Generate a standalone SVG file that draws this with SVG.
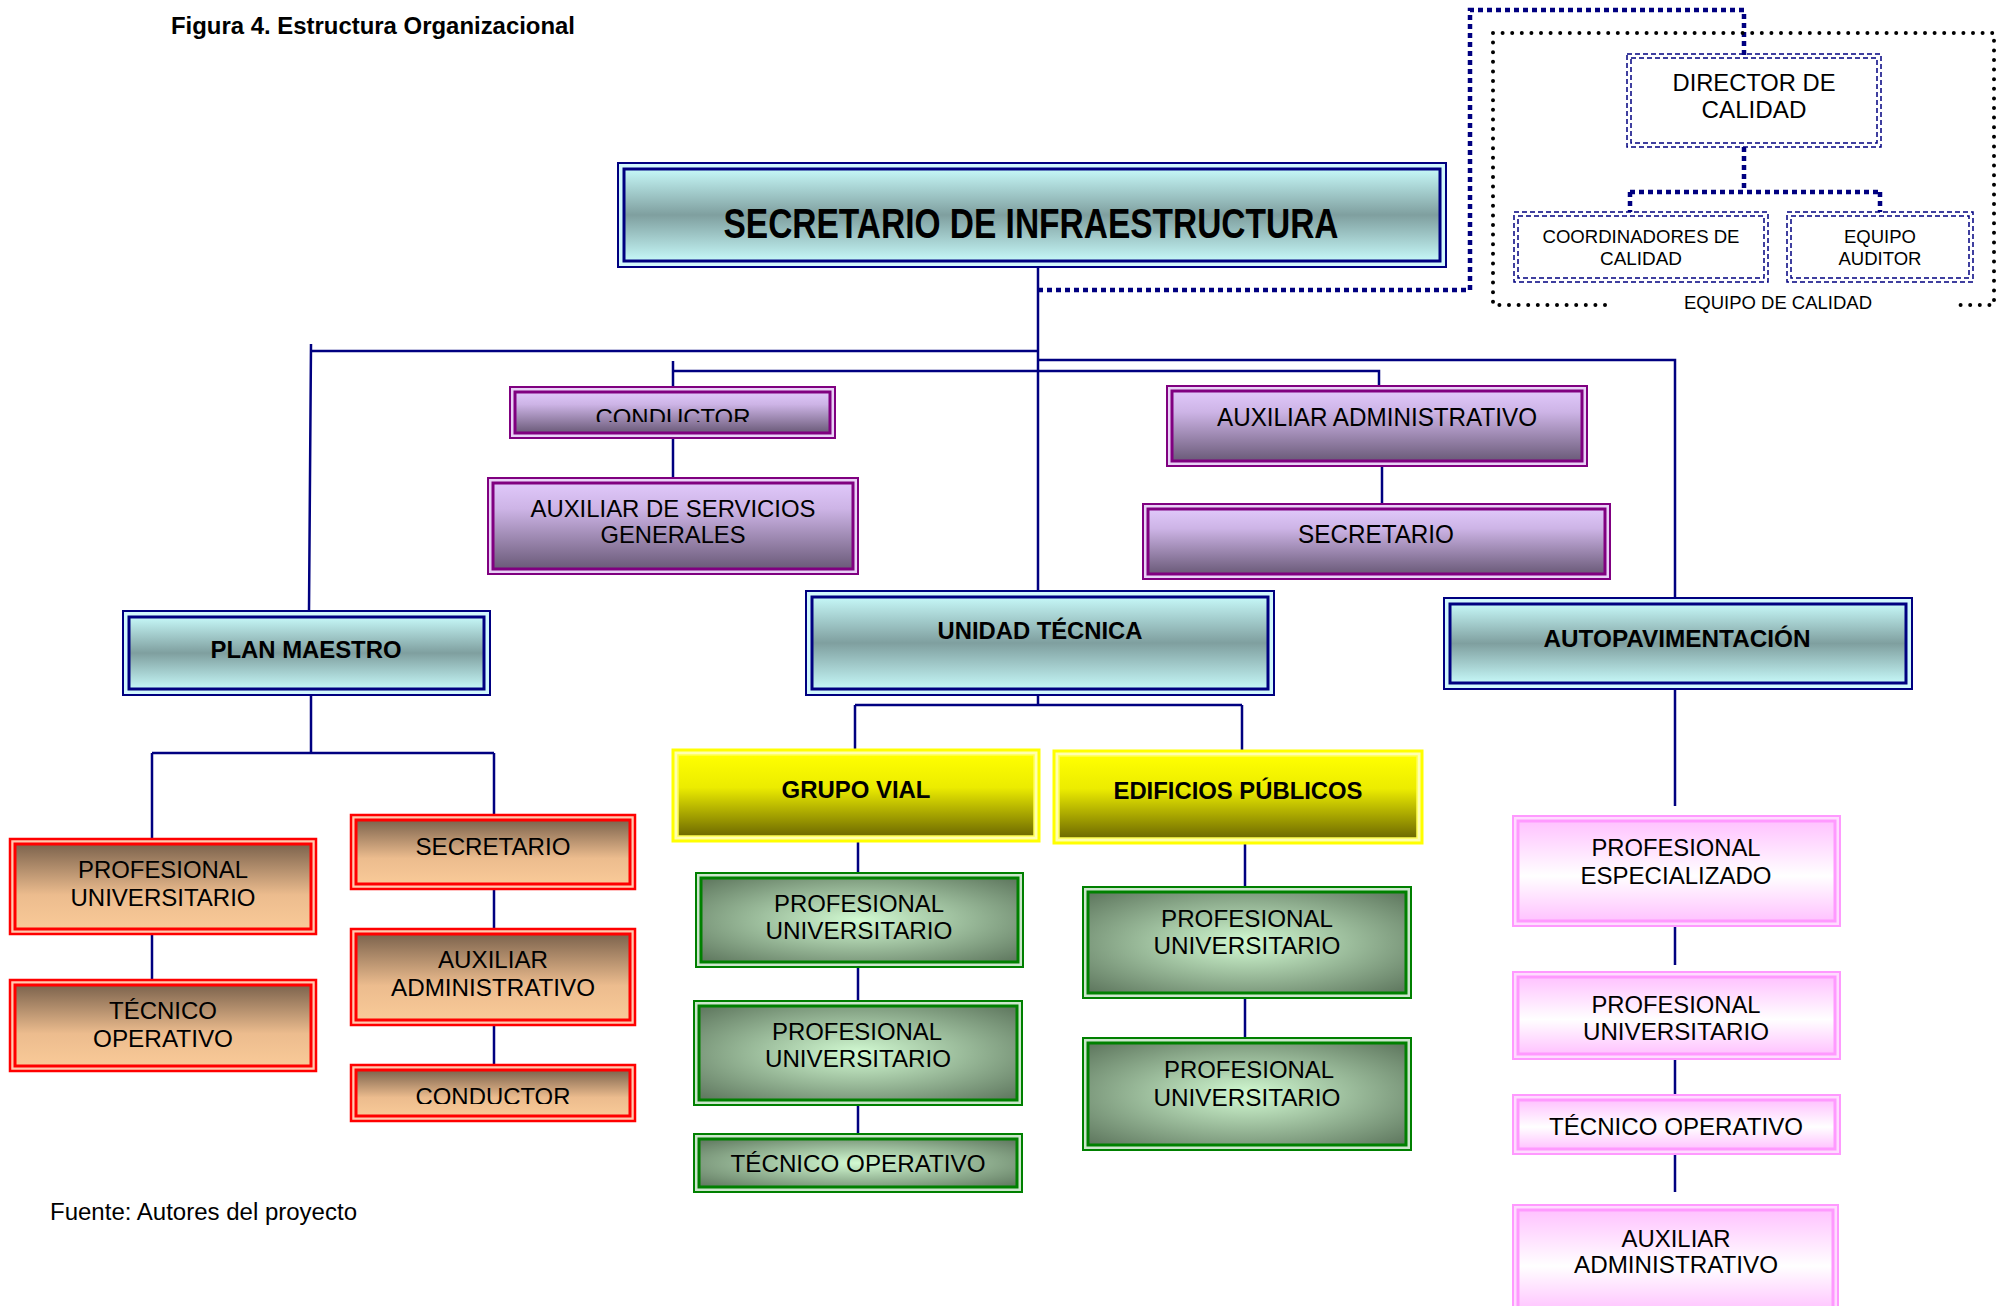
<svg xmlns="http://www.w3.org/2000/svg" width="2009" height="1306" viewBox="0 0 2009 1306">
  <style>
    svg { font-family: "Liberation Sans", Arial, sans-serif; font-size: 24px; }
    text { fill: #000; text-anchor: middle; }
    .b { font-weight: bold; }
    .st { text-anchor: start; }
    .ln { stroke: #000080; stroke-width: 2.5; fill: none; }
    .qd { stroke: #000080; stroke-width: 4.5; fill: none; stroke-dasharray: 5 4; }
    .dots { stroke: #000; stroke-width: 4; fill: none; stroke-dasharray: 0 9.6; stroke-linecap: round; }
    .qbox { stroke: #000080; stroke-width: 1.5; fill: none; stroke-dasharray: 5 3; }
    .o-cy { fill: #d2f8fc; stroke: #000080; stroke-width: 2; }
    .i-cy { fill: url(#gCyan); stroke: #000080; stroke-width: 3; }
    .o-pu { fill: #e8d2f6; stroke: #800080; stroke-width: 2; }
    .i-pu { fill: url(#gPurple); stroke: #800080; stroke-width: 3; }
    .o-pe { fill: #ffcab0; stroke: #ff0000; stroke-width: 2.5; }
    .i-pe { fill: url(#gPeach); stroke: #ff0000; stroke-width: 3; }
    .o-ye { fill: #ffffb0; stroke: #ffff00; stroke-width: 3; }
    .i-ye { fill: url(#gYellow); stroke: #ffff50; stroke-width: 1.5; }
    .o-gr { fill: #cde6cd; stroke: #008000; stroke-width: 2; }
    .i-gr { fill: url(#gGreen); stroke: #008000; stroke-width: 3; }
    .o-pk { fill: #ffdcff; stroke: #ff99ff; stroke-width: 2; }
    .i-pk { fill: url(#gPink); stroke: #ff99ff; stroke-width: 3; }
  </style>
  <defs>
    <linearGradient id="gCyan" x1="0" y1="0" x2="0" y2="1">
      <stop offset="0" stop-color="#c6f8f8"/>
      <stop offset="0.5" stop-color="#7f9f9f"/>
      <stop offset="1" stop-color="#c6f8f8"/>
    </linearGradient>
    <linearGradient id="gPurple" x1="0" y1="0" x2="0" y2="1">
      <stop offset="0" stop-color="#e0c8fa"/>
      <stop offset="0.3" stop-color="#cdb4e6"/>
      <stop offset="1" stop-color="#6a5a78"/>
    </linearGradient>
    <linearGradient id="gPeach" x1="0" y1="0" x2="0" y2="1">
      <stop offset="0" stop-color="#7c634d"/>
      <stop offset="0.6" stop-color="#ecbc8e"/>
      <stop offset="1" stop-color="#f9ca98"/>
    </linearGradient>
    <linearGradient id="gYellow" x1="0" y1="0" x2="0" y2="1">
      <stop offset="0" stop-color="#ffff00"/>
      <stop offset="0.4" stop-color="#ecec00"/>
      <stop offset="1" stop-color="#6e6a00"/>
    </linearGradient>
    <radialGradient id="gGreen" cx="0.5" cy="0.5" r="0.72">
      <stop offset="0" stop-color="#d2fad2"/>
      <stop offset="1" stop-color="#5a725a"/>
    </radialGradient>
    <linearGradient id="gPink" x1="0" y1="0" x2="0" y2="1">
      <stop offset="0" stop-color="#ffc2ff"/>
      <stop offset="0.55" stop-color="#ffffff"/>
      <stop offset="1" stop-color="#ffc2ff"/>
    </linearGradient>
    <clipPath id="cpCondA"><rect x="510" y="380" width="325" height="42"/></clipPath>
    <clipPath id="cpCondB"><rect x="351" y="1060" width="283" height="44"/></clipPath>
  </defs>

  <rect width="2009" height="1306" fill="#fff"/>

  <text class="b st" x="171" y="34" font-size="23" textLength="404" lengthAdjust="spacingAndGlyphs">Figura 4. Estructura Organizacional</text>
  <text class="st" x="50" y="1220" font-size="23" textLength="307" lengthAdjust="spacingAndGlyphs">Fuente: Autores del proyecto</text>

  <!-- connectors -->
  <g id="connectors">
    <!-- quality team links -->
    <path class="qd" d="M1038 290 H1470 V10 H1744 V55"/>
    <path class="dots" d="M1605 305 H1493 V33 H1994 V305 H1955"/>
    <path class="qd" d="M1744 147 V192 M1630 192 H1880 M1630 192 V212 M1880 192 V212"/>
    <!-- head -->
    <path class="ln" d="M1038 259 V615"/>
    <path class="ln" d="M311 344 L309 611 M311 351 H1038"/>
    <path class="ln" d="M1038 360 H1675 V598"/>
    <path class="ln" d="M673 361 V387 M673 371 H1379 V387"/>
    <path class="ln" d="M673 438 V478"/>
    <path class="ln" d="M1382 458 V504"/>
    <!-- plan maestro -->
    <path class="ln" d="M311 686 V753 M152 753 H494 M152 753 V839 M494 753 V815"/>
    <path class="ln" d="M152 934 V980"/>
    <path class="ln" d="M494 888 V929 M494 1025 V1065"/>
    <!-- unidad tecnica -->
    <path class="ln" d="M1038 683 V705 M855 705 H1242 M855 705 V750 M1242 705 V751"/>
    <path class="ln" d="M858 822 V873 M858 958 V1002 M858 1092 V1134"/>
    <path class="ln" d="M1245 844 V888 M1245 988 V1039"/>
    <!-- autopavimentacion -->
    <path class="ln" d="M1675 686 V806 M1675 917 V965 M1675 1052 V1096 M1675 1153 V1192"/>
  </g>

  <!-- head -->
  <g id="secretario-infraestructura">
    <rect class="o-cy" x="618" y="163" width="828" height="104"/>
    <rect class="i-cy" x="624" y="169" width="816" height="92"/>
    <text class="b" x="1031" y="238" font-size="42" textLength="615" lengthAdjust="spacingAndGlyphs">SECRETARIO DE INFRAESTRUCTURA</text>
  </g>

  <!-- quality team -->
  <g id="director-calidad">
    <rect class="qbox" x="1627" y="54" width="254" height="93" fill="#fff"/>
    <rect class="qbox" x="1631" y="58" width="246" height="85"/>
    <text x="1754" y="91" font-size="23" textLength="163" lengthAdjust="spacingAndGlyphs">DIRECTOR DE</text>
    <text x="1754" y="118" font-size="23" textLength="105" lengthAdjust="spacingAndGlyphs">CALIDAD</text>
  </g>
  <g id="coordinadores-calidad">
    <rect class="qbox" x="1514" y="212" width="254" height="70"/>
    <rect class="qbox" x="1518" y="216" width="246" height="62"/>
    <text x="1641" y="243" font-size="18" textLength="197" lengthAdjust="spacingAndGlyphs">COORDINADORES DE</text>
    <text x="1641" y="265" font-size="18" textLength="82" lengthAdjust="spacingAndGlyphs">CALIDAD</text>
  </g>
  <g id="equipo-auditor">
    <rect class="qbox" x="1787" y="212" width="186" height="70"/>
    <rect class="qbox" x="1791" y="216" width="178" height="62"/>
    <text x="1880" y="243" font-size="18" textLength="72" lengthAdjust="spacingAndGlyphs">EQUIPO</text>
    <text x="1880" y="265" font-size="18" textLength="83" lengthAdjust="spacingAndGlyphs">AUDITOR</text>
  </g>
  <text x="1778" y="309" font-size="17.5" textLength="188" lengthAdjust="spacingAndGlyphs">EQUIPO DE CALIDAD</text>

  <!-- staff units -->
  <g id="conductor-despacho">
    <rect class="o-pu" x="510" y="387" width="325" height="51"/>
    <rect class="i-pu" x="515" y="392" width="315" height="41"/>
    <text x="673" y="426" clip-path="url(#cpCondA)" textLength="155" lengthAdjust="spacingAndGlyphs">CONDUCTOR</text>
  </g>
  <g id="auxiliar-servicios">
    <rect class="o-pu" x="488" y="478" width="370" height="96"/>
    <rect class="i-pu" x="493" y="483" width="360" height="86"/>
    <text x="673" y="517" textLength="285" lengthAdjust="spacingAndGlyphs">AUXILIAR DE SERVICIOS</text>
    <text x="673" y="543" textLength="145" lengthAdjust="spacingAndGlyphs">GENERALES</text>
  </g>
  <g id="auxiliar-administrativo-despacho">
    <rect class="o-pu" x="1167" y="386" width="420" height="80"/>
    <rect class="i-pu" x="1172" y="391" width="410" height="70"/>
    <text x="1377" y="426" font-size="25" textLength="320" lengthAdjust="spacingAndGlyphs">AUXILIAR ADMINISTRATIVO</text>
  </g>
  <g id="secretario-despacho">
    <rect class="o-pu" x="1143" y="504" width="467" height="75"/>
    <rect class="i-pu" x="1148" y="509" width="457" height="65"/>
    <text x="1376" y="543" font-size="25" textLength="156" lengthAdjust="spacingAndGlyphs">SECRETARIO</text>
  </g>

  <!-- main units -->
  <g id="plan-maestro">
    <rect class="o-cy" x="123" y="611" width="367" height="84"/>
    <rect class="i-cy" x="129" y="617" width="355" height="72"/>
    <text class="b" x="306" y="658" textLength="191" lengthAdjust="spacingAndGlyphs">PLAN MAESTRO</text>
  </g>
  <g id="unidad-tecnica">
    <rect class="o-cy" x="806" y="591" width="468" height="104"/>
    <rect class="i-cy" x="812" y="597" width="456" height="92"/>
    <text class="b" x="1040" y="639" font-size="23" textLength="205" lengthAdjust="spacingAndGlyphs">UNIDAD TÉCNICA</text>
  </g>
  <g id="autopavimentacion">
    <rect class="o-cy" x="1444" y="598" width="468" height="91"/>
    <rect class="i-cy" x="1450" y="604" width="456" height="79"/>
    <text class="b" x="1677" y="647" font-size="23" textLength="267" lengthAdjust="spacingAndGlyphs">AUTOPAVIMENTACIÓN</text>
  </g>

  <!-- plan maestro staff -->
  <g id="pm-profesional-universitario">
    <rect class="o-pe" x="10" y="839" width="306" height="95"/>
    <rect class="i-pe" x="15" y="844" width="296" height="85"/>
    <text x="163" y="878" textLength="170" lengthAdjust="spacingAndGlyphs">PROFESIONAL</text>
    <text x="163" y="906" textLength="185" lengthAdjust="spacingAndGlyphs">UNIVERSITARIO</text>
  </g>
  <g id="pm-tecnico-operativo">
    <rect class="o-pe" x="10" y="980" width="306" height="91"/>
    <rect class="i-pe" x="15" y="985" width="296" height="81"/>
    <text x="163" y="1019" textLength="108" lengthAdjust="spacingAndGlyphs">TÉCNICO</text>
    <text x="163" y="1047" textLength="140" lengthAdjust="spacingAndGlyphs">OPERATIVO</text>
  </g>
  <g id="pm-secretario">
    <rect class="o-pe" x="351" y="815" width="284" height="74"/>
    <rect class="i-pe" x="356" y="820" width="274" height="64"/>
    <text x="493" y="855" textLength="155" lengthAdjust="spacingAndGlyphs">SECRETARIO</text>
  </g>
  <g id="pm-auxiliar-administrativo">
    <rect class="o-pe" x="351" y="929" width="284" height="96"/>
    <rect class="i-pe" x="356" y="934" width="274" height="86"/>
    <text x="493" y="968" textLength="110" lengthAdjust="spacingAndGlyphs">AUXILIAR</text>
    <text x="493" y="996" textLength="204" lengthAdjust="spacingAndGlyphs">ADMINISTRATIVO</text>
  </g>
  <g id="pm-conductor">
    <rect class="o-pe" x="351" y="1065" width="284" height="56"/>
    <rect class="i-pe" x="356" y="1070" width="274" height="46"/>
    <text x="493" y="1105" clip-path="url(#cpCondB)" textLength="155" lengthAdjust="spacingAndGlyphs">CONDUCTOR</text>
  </g>

  <!-- unidad tecnica groups -->
  <g id="grupo-vial">
    <rect class="o-ye" x="673" y="750" width="366" height="91"/>
    <rect class="i-ye" x="678" y="755" width="356" height="81"/>
    <text class="b" x="856" y="798" textLength="149" lengthAdjust="spacingAndGlyphs">GRUPO VIAL</text>
  </g>
  <g id="edificios-publicos">
    <rect class="o-ye" x="1054" y="751" width="368" height="92"/>
    <rect class="i-ye" x="1059" y="756" width="358" height="82"/>
    <text class="b" x="1238" y="799" textLength="249" lengthAdjust="spacingAndGlyphs">EDIFICIOS PÚBLICOS</text>
  </g>
  <g id="gv-profesional-universitario-1">
    <rect class="o-gr" x="696" y="873" width="327" height="94"/>
    <rect class="i-gr" x="701" y="878" width="317" height="84"/>
    <text x="859" y="912" textLength="170" lengthAdjust="spacingAndGlyphs">PROFESIONAL</text>
    <text x="859" y="939" textLength="187" lengthAdjust="spacingAndGlyphs">UNIVERSITARIO</text>
  </g>
  <g id="gv-profesional-universitario-2">
    <rect class="o-gr" x="694" y="1001" width="328" height="104"/>
    <rect class="i-gr" x="699" y="1006" width="318" height="94"/>
    <text x="857" y="1040" textLength="170" lengthAdjust="spacingAndGlyphs">PROFESIONAL</text>
    <text x="858" y="1067" textLength="186" lengthAdjust="spacingAndGlyphs">UNIVERSITARIO</text>
  </g>
  <g id="gv-tecnico-operativo">
    <rect class="o-gr" x="694" y="1134" width="328" height="58"/>
    <rect class="i-gr" x="699" y="1139" width="318" height="48"/>
    <text x="858" y="1172" textLength="255" lengthAdjust="spacingAndGlyphs">TÉCNICO OPERATIVO</text>
  </g>
  <g id="ep-profesional-universitario-1">
    <rect class="o-gr" x="1083" y="887" width="328" height="111"/>
    <rect class="i-gr" x="1088" y="892" width="318" height="101"/>
    <text x="1247" y="927" textLength="172" lengthAdjust="spacingAndGlyphs">PROFESIONAL</text>
    <text x="1247" y="954" textLength="187" lengthAdjust="spacingAndGlyphs">UNIVERSITARIO</text>
  </g>
  <g id="ep-profesional-universitario-2">
    <rect class="o-gr" x="1083" y="1038" width="328" height="112"/>
    <rect class="i-gr" x="1088" y="1043" width="318" height="102"/>
    <text x="1249" y="1078" textLength="170" lengthAdjust="spacingAndGlyphs">PROFESIONAL</text>
    <text x="1247" y="1106" textLength="187" lengthAdjust="spacingAndGlyphs">UNIVERSITARIO</text>
  </g>

  <!-- autopavimentacion staff -->
  <g id="ap-profesional-especializado">
    <rect class="o-pk" x="1513" y="816" width="327" height="110"/>
    <rect class="i-pk" x="1518" y="821" width="317" height="100"/>
    <text x="1676" y="856" textLength="169" lengthAdjust="spacingAndGlyphs">PROFESIONAL</text>
    <text x="1676" y="884" textLength="191" lengthAdjust="spacingAndGlyphs">ESPECIALIZADO</text>
  </g>
  <g id="ap-profesional-universitario">
    <rect class="o-pk" x="1513" y="972" width="327" height="87"/>
    <rect class="i-pk" x="1518" y="977" width="317" height="77"/>
    <text x="1676" y="1013" textLength="169" lengthAdjust="spacingAndGlyphs">PROFESIONAL</text>
    <text x="1676" y="1040" textLength="186" lengthAdjust="spacingAndGlyphs">UNIVERSITARIO</text>
  </g>
  <g id="ap-tecnico-operativo">
    <rect class="o-pk" x="1513" y="1095" width="327" height="59"/>
    <rect class="i-pk" x="1518" y="1100" width="317" height="49"/>
    <text x="1676" y="1135" textLength="254" lengthAdjust="spacingAndGlyphs">TÉCNICO OPERATIVO</text>
  </g>
  <g id="ap-auxiliar-administrativo">
    <rect class="o-pk" x="1513" y="1205" width="325" height="112"/>
    <rect class="i-pk" x="1518" y="1210" width="315" height="102"/>
    <text x="1676" y="1247" textLength="109" lengthAdjust="spacingAndGlyphs">AUXILIAR</text>
    <text x="1676" y="1273" textLength="204" lengthAdjust="spacingAndGlyphs">ADMINISTRATIVO</text>
  </g>
</svg>
